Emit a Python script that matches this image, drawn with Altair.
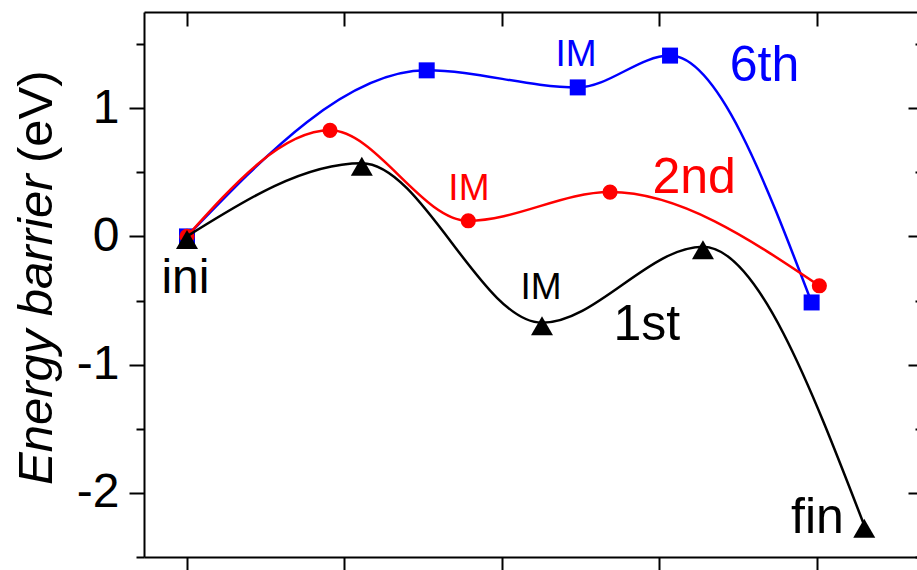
import altair as alt
import pandas as pd

# ---- data ----
x_1st = [0.0, 1.11, 2.254, 3.276, 4.30]
y_1st = [0.0, 0.571, -0.673, -0.08, -2.253]
x_2nd = [0.0, 0.908, 1.786, 2.686, 4.015]
y_2nd = [0.0, 0.827, 0.122, 0.346, -0.385]
x_6th = [0.0, 1.522, 2.481, 3.067, 3.966]
y_6th = [0.0, 1.295, 1.162, 1.41, -0.515]

x_ticks = [0, 1, 2, 3, 4]
y_ticks = [-2.5, -2, -1.5, -1, -0.5, 0, 0.5, 1, 1.5]

ann_text = ["ini", "IM", "IM", "IM", "1st", "2nd", "6th", "fin"]
ann_x = [-0.01, 2.248, 1.79, 2.47, 2.92, 3.22, 3.667, 4.003]
ann_y = [-0.44, -0.486, 0.286, 1.33, -0.81, 0.341, 1.215, -2.31]
ann_color = ["black", "black", "red", "blue", "black", "red", "blue", "black"]
ann_size = [48, 37, 37, 37, 50, 50, 50, 50]

title_italic = ["Energy barrier"]
title_plain = ["(eV)"]

FONT = "Liberation Sans"

df1 = pd.DataFrame({"x": x_1st, "y": y_1st})
df2 = pd.DataFrame({"x": x_2nd, "y": y_2nd})
df6 = pd.DataFrame({"x": x_6th, "y": y_6th})
ann = pd.DataFrame({"t": ann_text, "x": ann_x, "y": ann_y, "c": ann_color, "s": ann_size})

xs = alt.Scale(domain=[-0.273, 4.635], nice=False, zero=False)
ys = alt.Scale(domain=[-2.5, 1.75], nice=False, zero=False)

common = dict(domainColor="black", domainWidth=2, tickColor="black", tickWidth=2,
              grid=False, title=None)

ax_bottom = alt.Axis(orient="bottom", values=x_ticks, labels=False, tickSize=14, **common)
ax_top = alt.Axis(orient="top", values=x_ticks, labels=False,
                  tickSize={"expr": "-14"}, **common)
ax_left = alt.Axis(orient="left", values=y_ticks,
                   tickSize={"condition": {"test": "datum.value % 1 === 0", "value": 15}, "value": 8},
                   labelExpr="datum.value % 1 === 0 ? '' + datum.value : ''",
                   labelFont=FONT, labelFontSize=48, labelColor="black", labelPadding=10,
                   **common)
ax_right = alt.Axis(orient="right", values=y_ticks, labels=False, offset=5,
                    tickSize={"expr": "datum.value % 1 === 0 ? -14 : -7"}, **common)


def line(df, color, xa=None, ya=None):
    return alt.Chart(df).mark_line(color=color, strokeWidth=2.5, interpolate="monotone").encode(
        x=alt.X("x:Q", scale=xs, axis=xa), y=alt.Y("y:Q", scale=ys, axis=ya))


def pts(df, mark, xa=None, ya=None):
    return alt.Chart(df).mark_point(**mark).encode(
        x=alt.X("x:Q", scale=xs, axis=xa), y=alt.Y("y:Q", scale=ys, axis=ya))


l6 = line(df6, "#0000FF", ax_bottom, ax_left)
p6 = pts(df6, dict(shape="square", filled=True, size=256, color="#0000FF", opacity=1), ax_top, ax_right)
l2 = line(df2, "#FF0000")
p2 = pts(df2, dict(shape="circle", filled=True, size=230, color="#FF0000", opacity=1))
l1 = line(df1, "#000000")
p1 = pts(df1, dict(shape="triangle-up", filled=True, size=484, color="#000000", opacity=1, yOffset=3))

labels = alt.Chart(ann).mark_text(font=FONT, align="center", baseline="alphabetic").encode(
    x=alt.X("x:Q", scale=xs, axis=None), y=alt.Y("y:Q", scale=ys, axis=None),
    text="t:N", color=alt.Color("c:N", scale=None), size=alt.Size("s:Q", scale=None))

t1 = alt.Chart(pd.DataFrame({"t": title_italic})).mark_text(
    font=FONT, fontSize=49, fontStyle="italic", angle=270, align="left",
    baseline="alphabetic", color="black").encode(
    text="t:N", x=alt.value(-92), y=alt.value(473))
t2 = alt.Chart(pd.DataFrame({"t": title_plain})).mark_text(
    font=FONT, fontSize=49, angle=270, align="left",
    baseline="alphabetic", color="black").encode(
    text="t:N", x=alt.value(-92), y=alt.value(151))

chart = alt.layer(l6, p6, l2, p2, l1, p1, labels, t1, t2).resolve_axis(
    x="independent", y="independent").properties(
    width=773, height=545,
    autosize=alt.AutoSizeParams(type="none"),
    padding={"left": 144, "top": 12, "right": 0, "bottom": 13},
    background="white",
).configure_view(stroke=None)

chart.save("out.html", embed_options={"renderer": "svg", "actions": False})
